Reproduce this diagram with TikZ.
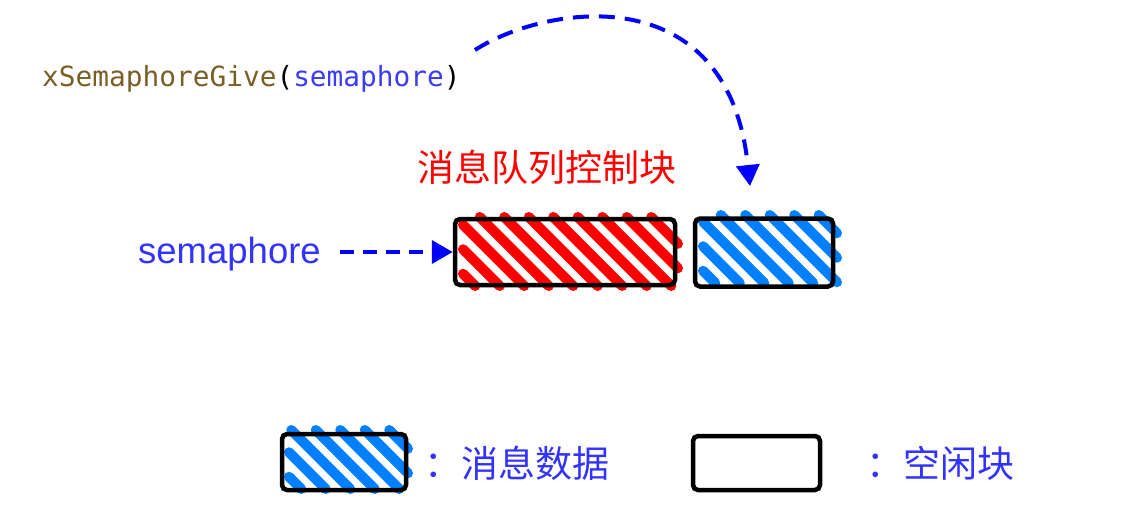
\documentclass[tikz,border=0pt]{standalone}
\usepackage{fontspec}
\usetikzlibrary{arrows.meta}
\newfontfamily\cjkf{Noto Sans CJK SC}
\newfontfamily\monof{DejaVu Sans Mono}
\newfontfamily\sansf{Liberation Sans}
\definecolor{codebrown}{RGB}{121,94,38}
\definecolor{codeblue}{RGB}{60,60,240}
\definecolor{txtblue}{RGB}{51,51,255}
\definecolor{hatchblue}{RGB}{0,128,255}
\definecolor{arrblue}{RGB}{0,0,255}
\definecolor{hatchred}{RGB}{255,0,0}
\newcommand\hatchrect[6]{%
  \pgfmathsetmacro\hA{#1-#4}%
  \pgfmathsetmacro\hB{#3-#2}%
  \pgfmathtruncatemacro\hN{(\hB-\hA)/#6}%
  \foreach \k in {0,...,\hN}{%
    \pgfmathsetmacro\cc{\hA+#6*(\k+0.5)}%
    \pgfmathsetmacro\sx{max(#1,\cc+#2)}%
    \pgfmathsetmacro\ex{min(#3,\cc+#4)}%
    \pgfmathsetmacro\sy{\sx-\cc}%
    \pgfmathsetmacro\ey{\ex-\cc}%
    \pgfmathtruncatemacro\seglen{\ex-\sx}%
    \ifnum\seglen>6 \draw[hatch,#5] (\sx,\sy) -- (\ex,\ey);\fi
  }%
}
\begin{document}
\begin{tikzpicture}[x=1pt,y=-1pt,
  hatch/.style={line width=10pt,line cap=round},
  roughbox/.style={draw=black,line width=4.5pt,rounded corners=5pt,inner sep=0pt},
  dasharrow/.style={draw=arrblue,line width=4pt,dash pattern=on 14pt off 9pt,-{Triangle[length=21pt,width=23pt]}},
  cjklabel/.style={inner sep=0pt,anchor=base west,font=\cjkf\fontsize{37}{40}\selectfont}
]
\useasboundingbox (0,0) rectangle (1148,525);

% code text
\node[inner sep=0pt,anchor=base west,font=\monof\fontsize{27.8}{30}\selectfont] (code) at (42,86)
  {\textcolor{codebrown}{xSemaphoreGive}(\textcolor{codeblue}{semaphore})};

% title
\node[cjklabel,text=hatchred] (title) at (417,181) {消息队列控制块};

% semaphore label
\node[inner sep=0pt,anchor=base west,text=txtblue,font=\sansf\fontsize{36.5}{40}\selectfont] (sem) at (138,263) {semaphore};

% hatches
\hatchrect{463}{217}{678}{286}{hatchred}{24.5}
\hatchrect{703}{215}{837}{283}{hatchblue}{24.5}
\hatchrect{289}{430}{408}{489}{hatchblue}{24.5}

% boxes
\node[roughbox,minimum width=220pt,minimum height=66pt] (ctrl) at (565,252) {};
\node[roughbox,minimum width=138pt,minimum height=68pt] (free) at (764,252.5) {};
\node[roughbox,minimum width=124pt,minimum height=56pt] (lgdata) at (344,462) {};
\node[roughbox,minimum width=127pt,minimum height=54pt] (lgfree) at (756.5,463) {};

% legend texts
\node[cjklabel,text=txtblue] (lgdatatxt) at (424,477) {：消息数据};
\node[cjklabel,text=txtblue] (lgfreetxt) at (866,477) {：空闲块};

% arrows
\coordinate (semend) at (340,252);
\draw[dasharrow] (semend) -- (ctrl.west);
\coordinate (cstart) at (475,50);
\coordinate (cend) at (750,186);
\draw[dasharrow,dash pattern=on 16pt off 10pt] (cstart) .. controls (545,5) and (728,-25) .. (cend);
\end{tikzpicture}
\end{document}
